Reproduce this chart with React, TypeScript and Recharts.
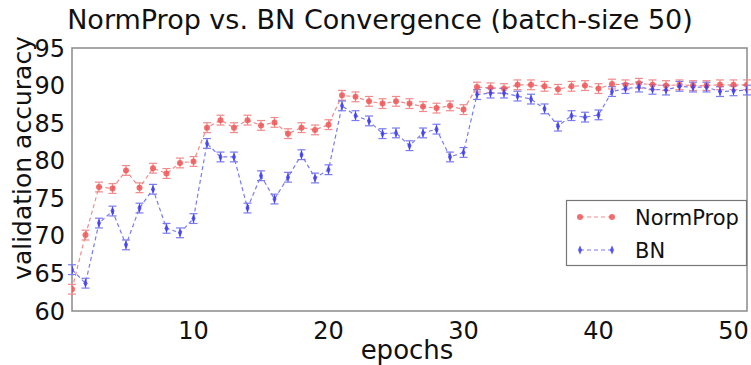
import React from "react";
import {
	LineChart,
	Line,
	XAxis,
	YAxis,
	ErrorBar,
	ReferenceArea,
} from "recharts";

const epochs = [
	1, 2, 3, 4, 5, 6, 7, 8, 9, 10, 11, 12, 13, 14, 15, 16, 17, 18, 19, 20, 21,
	22, 23, 24, 25, 26, 27, 28, 29, 30, 31, 32, 33, 34, 35, 36, 37, 38, 39, 40,
	41, 42, 43, 44, 45, 46, 47, 48, 49, 50, 51,
];

const normProp = [
	62.9, 70.1, 76.5, 76.3, 78.7, 76.4, 79.0, 78.3, 79.7, 79.9, 84.4, 85.4, 84.4,
	85.4, 84.7, 85.1, 83.6, 84.4, 84.1, 84.8, 88.7, 88.5, 87.9, 87.6, 87.9, 87.6,
	87.2, 87.0, 87.3, 86.8, 89.8, 89.7, 89.6, 90.1, 90.1, 89.9, 89.5, 89.9, 90.0,
	89.6, 90.2, 90.1, 90.3, 90.1, 90.0, 90.1, 90.0, 90.0, 90.1, 90.1, 90.1,
];

const bn = [
	65.5, 63.7, 71.7, 73.3, 68.8, 73.7, 76.2, 71.0, 70.4, 72.3, 82.3, 80.5, 80.5,
	73.7, 78.0, 74.9, 77.8, 80.8, 77.7, 78.8, 87.3, 86.0, 85.3, 83.6, 83.7, 82.0,
	83.7, 84.2, 80.5, 81.1, 88.8, 89.0, 89.0, 88.6, 88.2, 86.9, 84.6, 86.0, 85.8,
	86.1, 89.2, 89.6, 89.8, 89.5, 89.4, 89.9, 89.8, 89.8, 89.2, 89.3, 89.4,
];

// error bar half-height, roughly the same everywhere
const errSize = 0.65;

const xTicks = [10, 20, 30, 40, 50];
const yTicks = [60, 65, 70, 75, 80, 85, 90, 95];

const RED = "#f05656";
const RED_LINE = "#f38a8a";
const BLUE = "#3a3aee";
const BLUE_LINE = "#7a7af2";
const FONT = "'DejaVu Sans', sans-serif";

const data = epochs.map((e, i) => ({
	epoch: e,
	np: normProp[i],
	bn: bn[i],
	err: errSize,
}));

function RedDot(props: any) {
	const { cx, cy } = props;
	if (cx == null || cy == null) return null;
	return <circle cx={cx} cy={cy} r={3} fill={RED} fillOpacity={0.85} />;
}

function BlueDot(props: any) {
	const { cx, cy } = props;
	if (cx == null || cy == null) return null;
	return (
		<path
			d={`M${cx},${cy - 4.5} L${cx + 2},${cy} L${cx},${cy + 4.5} L${cx - 2},${cy} Z`}
			fill={BLUE}
			fillOpacity={0.85}
		/>
	);
}

export default function App() {
	return (
		<div
			style={{
				position: "absolute",
				left: 0,
				top: 0,
				width: 751,
				height: 365,
				background: "#fff",
				fontFamily: FONT,
			}}
		>
			<LineChart
				width={751}
				height={365}
				data={data}
				margin={{ top: 48, right: 4, bottom: 24, left: 12 }}
			>
				<XAxis
					dataKey="epoch"
					type="number"
					domain={[1, 51]}
					ticks={xTicks}
					allowDataOverflow
					height={30}
					tickLine={false}
					axisLine={false}
					tickMargin={5}
					tick={{ fill: "#111", fontSize: 24, fontFamily: FONT }}
				/>
				<YAxis
					type="number"
					domain={[60, 95]}
					ticks={yTicks}
					width={60}
					tickLine={false}
					axisLine={false}
					tickMargin={1}
					tick={{ fill: "#111", fontSize: 24, fontFamily: FONT }}
				/>
				<ReferenceArea
					x1={1}
					x2={51}
					y1={60}
					y2={95}
					fill="none"
					stroke="#8a8a8a"
					strokeWidth={1.5}
				/>
				<Line
					dataKey="np"
					stroke={RED_LINE}
					strokeWidth={1.2}
					strokeDasharray="4 3"
					dot={<RedDot />}
					activeDot={false}
					isAnimationActive={false}
				>
					<ErrorBar
						dataKey="err"
						direction="y"
						width={4}
						stroke={RED_LINE}
						strokeWidth={1.2}
					/>
				</Line>
				<Line
					dataKey="bn"
					stroke={BLUE_LINE}
					strokeWidth={1.2}
					strokeDasharray="4 3"
					dot={<BlueDot />}
					activeDot={false}
					isAnimationActive={false}
				>
					<ErrorBar
						dataKey="err"
						direction="y"
						width={4}
						stroke={BLUE_LINE}
						strokeWidth={1.2}
					/>
				</Line>
			</LineChart>

			<svg
				width={751}
				height={365}
				style={{ position: "absolute", left: 0, top: 0, pointerEvents: "none" }}
			>
				<text
					x={380}
					y={29}
					textAnchor="middle"
					fontSize={27}
					fontFamily={FONT}
					fill="#111"
				>
					NormProp vs. BN Convergence (batch-size 50)
				</text>
				<text
					x={31}
					y={158}
					textAnchor="middle"
					fontSize={25}
					fontFamily={FONT}
					fill="#111"
					transform="rotate(-90, 31, 158)"
				>
					validation accuracy
				</text>
				<text
					x={407}
					y={359}
					textAnchor="middle"
					fontSize={26}
					fontFamily={FONT}
					fill="#111"
				>
					epochs
				</text>

				<rect
					x={566.5}
					y={200.5}
					width={180}
					height={65}
					fill="#fff"
					stroke="#777"
					strokeWidth={1.2}
				/>
				<line x1={580} y1={217} x2={612} y2={217} stroke={RED_LINE} strokeWidth={1.2} strokeDasharray="4 3" />
				<RedDot cx={580} cy={217} />
				<RedDot cx={612} cy={217} />
				<text x={635} y={225} fontSize={21} fontFamily={FONT} fill="#111">
					NormProp
				</text>
				<line x1={580} y1={250} x2={612} y2={250} stroke={BLUE_LINE} strokeWidth={1.2} strokeDasharray="4 3" />
				<BlueDot cx={580} cy={250} />
				<BlueDot cx={612} cy={250} />
				<text x={635} y={258} fontSize={21} fontFamily={FONT} fill="#111">
					BN
				</text>
			</svg>
		</div>
	);
}
